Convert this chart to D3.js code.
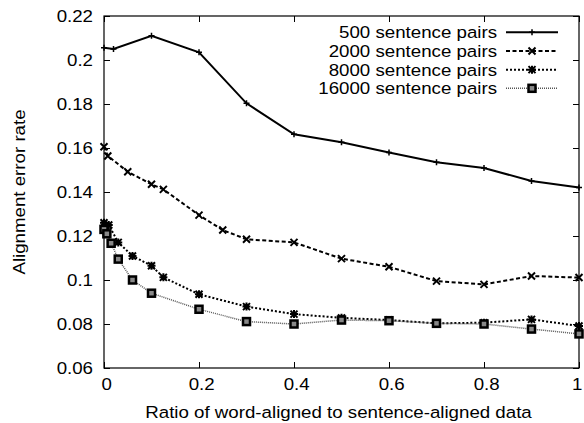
<!DOCTYPE html>
<html>
<head>
<meta charset="utf-8">
<script src="https://cdn.jsdelivr.net/npm/d3@7"></script>
<style>
  body { margin: 0; background: #fff; }
  text { font-family: "Liberation Sans", Arial, sans-serif; font-size: 17px; fill: #000; }
</style>
</head>
<body>
<div id="chart"></div>
<script>
/// Data ///
var seriesNames = ["500 sentence pairs", "2000 sentence pairs", "8000 sentence pairs", "16000 sentence pairs"];

var ratio500 = [0, 0.02, 0.1, 0.2, 0.3, 0.4, 0.5, 0.6, 0.7, 0.8, 0.9, 1.0];
var aer500 = [0.2056, 0.205, 0.211, 0.2035, 0.1803, 0.1662, 0.1626, 0.158, 0.1535, 0.1509, 0.145, 0.142];

var ratio2000 = [0, 0.008, 0.05, 0.1, 0.125, 0.2, 0.25, 0.3, 0.4, 0.5, 0.6, 0.7, 0.8, 0.9, 1.0];
var aer2000 = [0.1606, 0.1564, 0.1492, 0.1435, 0.1412, 0.1295, 0.1227, 0.1185, 0.1171, 0.1097, 0.106, 0.0995, 0.098, 0.1018, 0.1011];

var ratio8000 = [0, 0.01, 0.03, 0.06, 0.1, 0.125, 0.2, 0.3, 0.4, 0.5, 0.6, 0.7, 0.8, 0.9, 1.0];
var aer8000 = [0.126, 0.125, 0.1171, 0.1109, 0.1065, 0.1012, 0.0935, 0.0879, 0.0845, 0.0828, 0.0818, 0.0803, 0.0806, 0.0821, 0.0791];

var ratio16000 = [0, 0.006, 0.015, 0.03, 0.06, 0.1, 0.2, 0.3, 0.4, 0.5, 0.6, 0.7, 0.8, 0.9, 1.0];
var aer16000 = [0.123, 0.121, 0.1167, 0.1095, 0.1, 0.094, 0.0867, 0.0811, 0.08, 0.0818, 0.0815, 0.0803, 0.08, 0.0777, 0.0755];

var xTicks = [0, 0.2, 0.4, 0.6, 0.8, 1];
var xTickLabels = ["0", "0.2", "0.4", "0.6", "0.8", "1"];
var yTicks = [0.06, 0.08, 0.1, 0.12, 0.14, 0.16, 0.18, 0.2, 0.22];
var yTickLabels = ["0.06", "0.08", "0.1", "0.12", "0.14", "0.16", "0.18", "0.2", "0.22"];

/// SVG area and margins ///
var svgWidth = 584;
var svgHeight = 423;
var margin = { top: 16, right: 5, bottom: 55, left: 104 };
var width = svgWidth - margin.left - margin.right;
var height = svgHeight - margin.top - margin.bottom;
var stretch = "scale(1.1,1)";

var svg = d3.select("#chart")
    .append("svg")
    .attr("width", svgWidth)
    .attr("height", svgHeight);

svg.append("rect").attr("width", svgWidth).attr("height", svgHeight).attr("fill", "#fff");

var chart = svg.append("g")
    .attr("transform", `translate(${margin.left}, ${margin.top})`);

/// Scales ///
var x = d3.scaleLinear().domain([0, 1]).range([0, width]);
var y = d3.scaleLinear().domain([0.06, 0.22]).range([height, 0]);

/// Axes, ticks pointing inward, mirrored on top and right ///
function styleAxis(g) {
    g.select(".domain").remove();
    g.selectAll(".tick line").attr("stroke", "#000").attr("stroke-width", 1);
    g.selectAll(".tick text")
        .attr("fill", "#000")
        .style("font-family", "'Liberation Sans', Arial, sans-serif")
        .style("font-size", "17px")
        .attr("transform", stretch);
}

chart.append("g")
    .attr("transform", `translate(0, ${height})`)
    .call(d3.axisBottom(x).tickValues(xTicks).tickFormat((d, i) => xTickLabels[i])
        .tickSizeInner(-6).tickSizeOuter(0).tickPadding(10))
    .call(styleAxis)
    .selectAll(".tick text").attr("dx", d => d === 1 ? -2 : 2);

chart.append("g")
    .call(d3.axisTop(x).tickValues(xTicks).tickFormat("").tickSizeInner(-6).tickSizeOuter(0))
    .call(styleAxis);

chart.append("g")
    .call(d3.axisLeft(y).tickValues(yTicks).tickFormat((d, i) => yTickLabels[i])
        .tickSizeInner(-6).tickSizeOuter(0).tickPadding(10))
    .call(styleAxis);

chart.append("g")
    .attr("transform", `translate(${width}, 0)`)
    .call(d3.axisRight(y).tickValues(yTicks).tickFormat("").tickSizeInner(-6).tickSizeOuter(0))
    .call(styleAxis);

// plot frame
chart.append("rect")
    .attr("x", 0).attr("y", 0)
    .attr("width", width).attr("height", height)
    .attr("fill", "none").attr("stroke", "#000").attr("stroke-width", 1.2);

/// Axis titles ///
svg.append("text")
    .attr("transform", `translate(${margin.left + width / 2 - 3}, 418) ${stretch}`)
    .attr("text-anchor", "middle")
    .text("Ratio of word-aligned to sentence-aligned data");

svg.append("text")
    .attr("transform", `translate(25, ${margin.top + height / 2}) rotate(-90) ${stretch}`)
    .attr("text-anchor", "middle")
    .text("Alignment error rate");

/// Point symbols ///
function drawPlus(g, cx, cy) {
    g.append("path").attr("d", `M${cx - 3},${cy}H${cx + 3}M${cx},${cy - 3}V${cy + 3}`)
        .attr("stroke", "#000").attr("stroke-width", 1.5).attr("fill", "none");
}
function drawCross(g, cx, cy) {
    g.append("path").attr("d", `M${cx - 3.5},${cy - 3.5}L${cx + 3.5},${cy + 3.5}M${cx - 3.5},${cy + 3.5}L${cx + 3.5},${cy - 3.5}`)
        .attr("stroke", "#000").attr("stroke-width", 2).attr("fill", "none");
}
function drawStar(g, cx, cy) {
    g.append("path").attr("d", `M${cx - 3.5},${cy - 3.5}L${cx + 3.5},${cy + 3.5}M${cx - 3.5},${cy + 3.5}L${cx + 3.5},${cy - 3.5}M${cx - 4},${cy}H${cx + 4}M${cx},${cy - 4}V${cy + 4}`)
        .attr("stroke", "#000").attr("stroke-width", 2).attr("fill", "none");
}
function drawSquare(g, cx, cy) {
    g.append("rect").attr("x", cx - 3.5).attr("y", cy - 3.5).attr("width", 7).attr("height", 7)
        .attr("fill", "#888").attr("stroke", "#000").attr("stroke-width", 2.5);
}

var series = [
    { name: seriesNames[0], xs: ratio500, ys: aer500, dash: null, width: 2, color: "#000", mark: drawPlus },
    { name: seriesNames[1], xs: ratio2000, ys: aer2000, dash: "4,2.5", width: 2, color: "#000", mark: drawCross },
    { name: seriesNames[2], xs: ratio8000, ys: aer8000, dash: "2,2", width: 2, color: "#000", mark: drawStar },
    { name: seriesNames[3], xs: ratio16000, ys: aer16000, dash: "1,1", width: 1.5, color: "#555", mark: drawSquare }
];

var line = d3.line()
    .x(d => x(d[0]))
    .y(d => y(d[1]));

/// Lines and markers ///
series.forEach(function (s) {
    var pts = s.xs.map((v, i) => [v, s.ys[i]]);
    chart.append("path")
        .datum(pts)
        .attr("d", line)
        .attr("fill", "none")
        .attr("stroke", s.color)
        .attr("stroke-width", s.width)
        .attr("stroke-dasharray", s.dash);
    var mg = chart.append("g");
    pts.forEach(p => s.mark(mg, x(p[0]), y(p[1])));
});

/// Legend ///
var legend = svg.append("g");
series.forEach(function (s, i) {
    var ly = 32.3 + i * 18.67;
    legend.append("text")
        .attr("transform", `translate(497, ${ly + 6}) ${stretch}`)
        .attr("text-anchor", "end")
        .text(s.name);
    legend.append("line")
        .attr("x1", 506).attr("x2", 558)
        .attr("y1", ly).attr("y2", ly)
        .attr("stroke", s.color)
        .attr("stroke-width", s.width)
        .attr("stroke-dasharray", s.dash);
    s.mark(legend, 532, ly);
});
</script>
</body>
</html>
